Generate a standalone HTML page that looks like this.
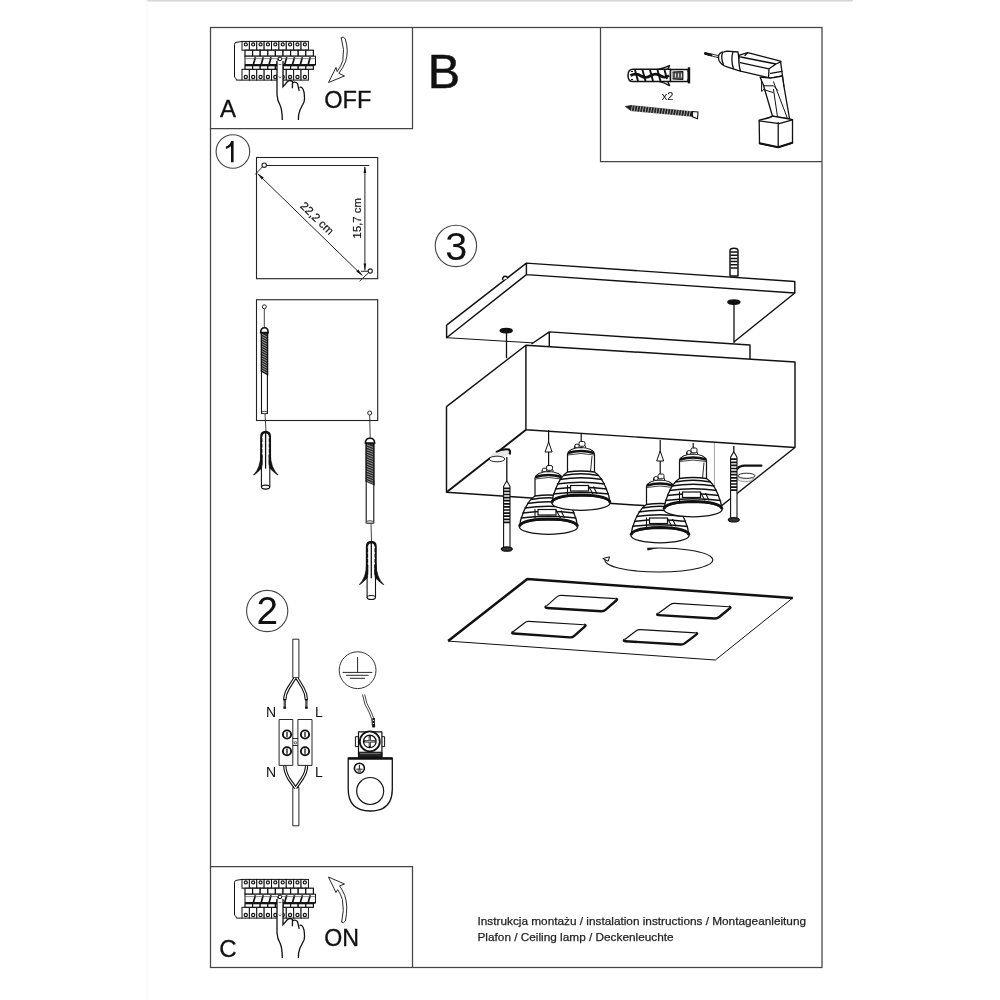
<!DOCTYPE html>
<html><head><meta charset="utf-8"><style>
html,body{margin:0;padding:0;background:#fff;overflow:hidden;}
svg{display:block;font-family:"Liberation Sans", sans-serif;will-change:transform;}
</style></head><body>
<svg width="1000" height="1000" viewBox="0 0 1000 1000">
<rect x="146.5" y="0" width="706.5" height="1.6" fill="#d8d8d8"/>
<rect x="146.5" y="0" width="1" height="1000" fill="#f7f7f7"/>
<g fill="none" stroke="#444" stroke-width="1.25">
<rect x="210.5" y="27.5" width="611.5" height="940"/>
<path d="M210.5 128.5H412.5V27.5"/>
<path d="M600.5 27.5V161.5H822"/>
<path d="M210.5 866.5H412.5V967.5"/>
</g>
<text x="220" y="117.2" font-size="24" text-anchor="start" fill="#111" stroke="#111" stroke-width="0.3">A</text>
<text x="324.2" y="108" font-size="23.6" text-anchor="start" fill="#111" stroke="#111" stroke-width="0.3">OFF</text>
<text x="427.8" y="87.6" font-size="48.5" text-anchor="start" fill="#111" stroke="#111" stroke-width="0.5">B</text>
<text x="219.3" y="957.3" font-size="24" text-anchor="start" fill="#111" stroke="#111" stroke-width="0.3">C</text>
<text x="324.3" y="946" font-size="23.2" text-anchor="start" fill="#111" stroke="#111" stroke-width="0.3">ON</text>
<text x="477.5" y="924.8" font-size="11.8" text-anchor="start" fill="#222" stroke="#222" stroke-width="0.25">Instrukcja montażu / instalation instructions / Montageanleitung</text>
<text x="477.5" y="940.6" font-size="11.8" text-anchor="start" fill="#222" stroke="#222" stroke-width="0.25">Plafon / Ceiling lamp / Deckenleuchte</text>
<g fill="none" stroke="#444" stroke-width="1.1">
<circle cx="232.9" cy="151.5" r="16.8"/>
<circle cx="267.2" cy="611" r="20.6"/>
<circle cx="455.9" cy="245.9" r="20.7"/>
</g>
<path d="M231.2 141 H233.6 V162.3 H231 V146.2 Q229 148 225.9 149 V146.6 Q230 145 231.2 141Z" fill="#111"/>
<text x="267.4" y="624.1" font-size="38.8" text-anchor="middle" fill="#111" >2</text>
<text x="456.2" y="259.8" font-size="39.5" text-anchor="middle" fill="#111" >3</text>
<g transform="translate(0,0)" fill="#fff" stroke="#111" stroke-width="1">
<path d="M242 41.4 L236 42.4 Q234.5 42.8 234.5 44.5 V77.2 L236.3 78.8 V80.1 H242"/>
<rect x="242.00" y="41.4" width="7.38" height="8.8"/>
<rect x="242.00" y="69.3" width="7.38" height="10.8"/>
<circle cx="245.80" cy="44.4" r="1.55" stroke-width="1.2"/>
<circle cx="245.80" cy="77" r="1.6" stroke-width="1.2"/>
<rect x="249.38" y="41.4" width="7.38" height="8.8"/>
<rect x="249.38" y="69.3" width="7.38" height="10.8"/>
<circle cx="253.18" cy="44.4" r="1.55" stroke-width="1.2"/>
<circle cx="253.18" cy="77" r="1.6" stroke-width="1.2"/>
<rect x="256.76" y="41.4" width="7.38" height="8.8"/>
<rect x="256.76" y="69.3" width="7.38" height="10.8"/>
<circle cx="260.56" cy="44.4" r="1.55" stroke-width="1.2"/>
<circle cx="260.56" cy="77" r="1.6" stroke-width="1.2"/>
<rect x="264.14" y="41.4" width="7.38" height="8.8"/>
<rect x="264.14" y="69.3" width="7.38" height="10.8"/>
<circle cx="267.94" cy="44.4" r="1.55" stroke-width="1.2"/>
<circle cx="267.94" cy="77" r="1.6" stroke-width="1.2"/>
<rect x="271.52" y="41.4" width="7.38" height="8.8"/>
<rect x="271.52" y="69.3" width="7.38" height="10.8"/>
<circle cx="275.32" cy="44.4" r="1.55" stroke-width="1.2"/>
<circle cx="275.32" cy="77" r="1.6" stroke-width="1.2"/>
<rect x="278.90" y="41.4" width="7.38" height="8.8"/>
<rect x="278.90" y="69.3" width="7.38" height="10.8"/>
<circle cx="282.70" cy="44.4" r="1.55" stroke-width="1.2"/>
<circle cx="282.70" cy="77" r="1.6" stroke-width="1.2"/>
<rect x="286.28" y="41.4" width="7.38" height="8.8"/>
<rect x="286.28" y="69.3" width="7.38" height="10.8"/>
<circle cx="290.08" cy="44.4" r="1.55" stroke-width="1.2"/>
<circle cx="290.08" cy="77" r="1.6" stroke-width="1.2"/>
<rect x="293.66" y="41.4" width="7.38" height="8.8"/>
<rect x="293.66" y="69.3" width="7.38" height="10.8"/>
<circle cx="297.46" cy="44.4" r="1.55" stroke-width="1.2"/>
<circle cx="297.46" cy="77" r="1.6" stroke-width="1.2"/>
<rect x="301.04" y="41.4" width="7.38" height="8.8"/>
<rect x="301.04" y="69.3" width="7.38" height="10.8"/>
<circle cx="304.84" cy="44.4" r="1.55" stroke-width="1.2"/>
<circle cx="304.84" cy="77" r="1.6" stroke-width="1.2"/>
<rect x="245.00" y="50.2" width="7.6" height="6" stroke-width="1.2"/>
<rect x="245.00" y="65.7" width="7.6" height="3.6" stroke-width="1.2"/>
<rect x="252.60" y="50.2" width="7.6" height="6" stroke-width="1.2"/>
<rect x="252.60" y="65.7" width="7.6" height="3.6" stroke-width="1.2"/>
<rect x="260.20" y="50.2" width="7.6" height="6" stroke-width="1.2"/>
<rect x="260.20" y="65.7" width="7.6" height="3.6" stroke-width="1.2"/>
<rect x="267.80" y="50.2" width="7.6" height="6" stroke-width="1.2"/>
<rect x="267.80" y="65.7" width="7.6" height="3.6" stroke-width="1.2"/>
<rect x="275.40" y="50.2" width="7.6" height="6" stroke-width="1.2"/>
<rect x="275.40" y="65.7" width="7.6" height="3.6" stroke-width="1.2"/>
<rect x="283.00" y="50.2" width="7.6" height="6" stroke-width="1.2"/>
<rect x="283.00" y="65.7" width="7.6" height="3.6" stroke-width="1.2"/>
<rect x="290.60" y="50.2" width="7.6" height="6" stroke-width="1.2"/>
<rect x="290.60" y="65.7" width="7.6" height="3.6" stroke-width="1.2"/>
<rect x="298.20" y="50.2" width="7.6" height="6" stroke-width="1.2"/>
<rect x="298.20" y="65.7" width="7.6" height="3.6" stroke-width="1.2"/>
<rect x="305.80" y="50.2" width="7.6" height="6" stroke-width="1.2"/>
<rect x="305.80" y="65.7" width="7.6" height="3.6" stroke-width="1.2"/>
<rect x="245" y="56.2" width="70.5" height="8.4"/>
<path d="M253.43 64.2 L255.43 57.2 M261.26 64.2 L263.26 57.2 M269.09 64.2 L271.09 57.2 M276.92 64.2 L278.92 57.2 M284.75 64.2 L286.75 57.2 M292.58 64.2 L294.58 57.2 M300.41 64.2 L302.41 57.2 M308.24 64.2 L310.24 57.2" stroke-width="1.7"/>
<path d="M245 58.6H315.5" stroke-width="0.7" stroke="#555"/>
<rect x="245" y="64.3" width="70.5" height="1.5" fill="#111" stroke="none"/>
</g>
<g transform="translate(0,0)">
<path fill="#fff" d="M277 60.5 H283 V86.8 L287.5 81.5 Q289.8 79.5 292.5 81.5 Q294.5 82 297.5 83.5 Q301.8 86.5 304 92 Q305 98.8 304 102 Q302 106 300 110 Q298 115 298.4 120 H282.3 Q282.3 110 280 105 Q277.5 101 277 95Z"/>
<path fill="none" stroke="#111" stroke-width="1.3" d="M277 61 V95 Q277.5 101 280 105 Q282.3 110 282.3 120 M283 61 V86.8 L287.5 81.5 Q289.8 79.5 292.5 81.5 L292.4 88.3 M292.5 83 Q295 81 297.5 83.5 L299.2 90.9 M299.5 87.5 Q302.5 86 304 92 Q305 98.8 304 102 Q302 106 300 110 Q298 115 298.4 120"/>
<circle cx="280" cy="58.9" r="1.8" fill="#fff" stroke="#111" stroke-width="1"/>
<path d="M279 76.5 L280 78 L281 76.5 M278.6 64.5 H281.4" fill="none" stroke="#333" stroke-width="0.7"/>
</g>
<g transform="translate(0,838)" fill="#fff" stroke="#111" stroke-width="1">
<path d="M242 41.4 L236 42.4 Q234.5 42.8 234.5 44.5 V77.2 L236.3 78.8 V80.1 H242"/>
<rect x="242.00" y="41.4" width="7.38" height="8.8"/>
<rect x="242.00" y="69.3" width="7.38" height="10.8"/>
<circle cx="245.80" cy="44.4" r="1.55" stroke-width="1.2"/>
<circle cx="245.80" cy="77" r="1.6" stroke-width="1.2"/>
<rect x="249.38" y="41.4" width="7.38" height="8.8"/>
<rect x="249.38" y="69.3" width="7.38" height="10.8"/>
<circle cx="253.18" cy="44.4" r="1.55" stroke-width="1.2"/>
<circle cx="253.18" cy="77" r="1.6" stroke-width="1.2"/>
<rect x="256.76" y="41.4" width="7.38" height="8.8"/>
<rect x="256.76" y="69.3" width="7.38" height="10.8"/>
<circle cx="260.56" cy="44.4" r="1.55" stroke-width="1.2"/>
<circle cx="260.56" cy="77" r="1.6" stroke-width="1.2"/>
<rect x="264.14" y="41.4" width="7.38" height="8.8"/>
<rect x="264.14" y="69.3" width="7.38" height="10.8"/>
<circle cx="267.94" cy="44.4" r="1.55" stroke-width="1.2"/>
<circle cx="267.94" cy="77" r="1.6" stroke-width="1.2"/>
<rect x="271.52" y="41.4" width="7.38" height="8.8"/>
<rect x="271.52" y="69.3" width="7.38" height="10.8"/>
<circle cx="275.32" cy="44.4" r="1.55" stroke-width="1.2"/>
<circle cx="275.32" cy="77" r="1.6" stroke-width="1.2"/>
<rect x="278.90" y="41.4" width="7.38" height="8.8"/>
<rect x="278.90" y="69.3" width="7.38" height="10.8"/>
<circle cx="282.70" cy="44.4" r="1.55" stroke-width="1.2"/>
<circle cx="282.70" cy="77" r="1.6" stroke-width="1.2"/>
<rect x="286.28" y="41.4" width="7.38" height="8.8"/>
<rect x="286.28" y="69.3" width="7.38" height="10.8"/>
<circle cx="290.08" cy="44.4" r="1.55" stroke-width="1.2"/>
<circle cx="290.08" cy="77" r="1.6" stroke-width="1.2"/>
<rect x="293.66" y="41.4" width="7.38" height="8.8"/>
<rect x="293.66" y="69.3" width="7.38" height="10.8"/>
<circle cx="297.46" cy="44.4" r="1.55" stroke-width="1.2"/>
<circle cx="297.46" cy="77" r="1.6" stroke-width="1.2"/>
<rect x="301.04" y="41.4" width="7.38" height="8.8"/>
<rect x="301.04" y="69.3" width="7.38" height="10.8"/>
<circle cx="304.84" cy="44.4" r="1.55" stroke-width="1.2"/>
<circle cx="304.84" cy="77" r="1.6" stroke-width="1.2"/>
<rect x="245.00" y="50.2" width="7.6" height="6" stroke-width="1.2"/>
<rect x="245.00" y="65.7" width="7.6" height="3.6" stroke-width="1.2"/>
<rect x="252.60" y="50.2" width="7.6" height="6" stroke-width="1.2"/>
<rect x="252.60" y="65.7" width="7.6" height="3.6" stroke-width="1.2"/>
<rect x="260.20" y="50.2" width="7.6" height="6" stroke-width="1.2"/>
<rect x="260.20" y="65.7" width="7.6" height="3.6" stroke-width="1.2"/>
<rect x="267.80" y="50.2" width="7.6" height="6" stroke-width="1.2"/>
<rect x="267.80" y="65.7" width="7.6" height="3.6" stroke-width="1.2"/>
<rect x="275.40" y="50.2" width="7.6" height="6" stroke-width="1.2"/>
<rect x="275.40" y="65.7" width="7.6" height="3.6" stroke-width="1.2"/>
<rect x="283.00" y="50.2" width="7.6" height="6" stroke-width="1.2"/>
<rect x="283.00" y="65.7" width="7.6" height="3.6" stroke-width="1.2"/>
<rect x="290.60" y="50.2" width="7.6" height="6" stroke-width="1.2"/>
<rect x="290.60" y="65.7" width="7.6" height="3.6" stroke-width="1.2"/>
<rect x="298.20" y="50.2" width="7.6" height="6" stroke-width="1.2"/>
<rect x="298.20" y="65.7" width="7.6" height="3.6" stroke-width="1.2"/>
<rect x="305.80" y="50.2" width="7.6" height="6" stroke-width="1.2"/>
<rect x="305.80" y="65.7" width="7.6" height="3.6" stroke-width="1.2"/>
<rect x="245" y="56.2" width="70.5" height="8.4"/>
<path d="M253.43 64.2 L255.43 57.2 M261.26 64.2 L263.26 57.2 M269.09 64.2 L271.09 57.2 M276.92 64.2 L278.92 57.2 M284.75 64.2 L286.75 57.2 M292.58 64.2 L294.58 57.2 M300.41 64.2 L302.41 57.2 M308.24 64.2 L310.24 57.2" stroke-width="1.7"/>
<path d="M245 58.6H315.5" stroke-width="0.7" stroke="#555"/>
<rect x="245" y="64.3" width="70.5" height="1.5" fill="#111" stroke="none"/>
</g>
<g transform="translate(0,838)">
<path fill="#fff" d="M277 60.5 H283 V86.8 L287.5 81.5 Q289.8 79.5 292.5 81.5 Q294.5 82 297.5 83.5 Q301.8 86.5 304 92 Q305 98.8 304 102 Q302 106 300 110 Q298 115 298.4 120 H282.3 Q282.3 110 280 105 Q277.5 101 277 95Z"/>
<path fill="none" stroke="#111" stroke-width="1.3" d="M277 61 V95 Q277.5 101 280 105 Q282.3 110 282.3 120 M283 61 V86.8 L287.5 81.5 Q289.8 79.5 292.5 81.5 L292.4 88.3 M292.5 83 Q295 81 297.5 83.5 L299.2 90.9 M299.5 87.5 Q302.5 86 304 92 Q305 98.8 304 102 Q302 106 300 110 Q298 115 298.4 120"/>
<circle cx="280" cy="58.9" r="1.8" fill="#fff" stroke="#111" stroke-width="1"/>
<path d="M279 76.5 L280 78 L281 76.5 M278.6 64.5 H281.4" fill="none" stroke="#333" stroke-width="0.7"/>
</g>
<g fill="#fff" stroke="#111" stroke-width="0.9">
<path d="M341.2 37.6 Q343.5 35.8 345.3 39 Q349 51 345.6 61.5 Q343 68 338.8 73.3 L344.5 76 L328.5 82.5 L336 67.5 L337.2 71.6 Q341.2 66 342.8 60.5 Q345 50 341.2 37.6Z"/>
<path d="M341.6 922.2 Q343.6 923.6 345.4 921 Q348.4 906 344.8 895.5 Q342.2 889.5 339.6 885.8 L344.5 884 L328.5 877 L336 892.5 L337.6 889.6 Q340.8 894 342.4 899.5 Q344.6 910 341.6 922.2Z"/>
</g>
<g stroke="#111" stroke-width="1.3" stroke-linejoin="round">
<path d="M657 69.8 Q663 68.5 669.5 65.6 L667.5 70 M659 81.4 Q664 82.5 669.5 85.6 L667.5 81" fill="#fff" stroke-width="1.4"/>
<path d="M670.5 69.3 H633 Q628 69.3 628 75.4 Q628 81.5 633 81.5 H670.5Z" fill="#fff" stroke-width="1.5"/>
<path d="M630.5 75.5 Q636 72.5 641 76 Q646 79 651 75.5 Q656 72.5 661 76 Q665 78.5 669 75.5" fill="none" stroke-width="2.8"/>
<path d="M635 70 L638 81 M642.5 70 L645.5 81 M650 70 L653 81 M657.5 70 L660.5 81 M664.5 70 L667 79" stroke-width="1.9"/>
<path d="M631 71.5 H633 M631 79.5 H633" stroke-width="1"/>
<rect x="670.5" y="69.5" width="17.5" height="12" fill="#fff" stroke-width="1.5"/>
<path d="M672.5 72 L683 71.5 V79.5 L672.5 79" fill="#555" stroke-width="1"/>
<rect x="683.8" y="72.2" width="3.6" height="6.8" fill="#fff" stroke="none"/>
<path d="M675.5 73.5V77.5M678.5 73.5V77.5M681.5 73.5V77.5" stroke="#fff" stroke-width="0.8"/>
<rect x="687.8" y="67.3" width="2.4" height="16.1" fill="#111" stroke="none"/>
</g>
<g stroke="#111" stroke-width="0.8">
<path d="M625.5 106.5 L631 105.6 L692.5 111.8 L692.5 116.3 L631 110.6 Z" fill="#222"/>
<path d="M632.5 105.3 L631.2 111.2 M635.2 105.6 L634.0 111.5 M638.0 105.9 L636.7 111.8 M640.8 106.2 L639.5 112.1 M643.5 106.4 L642.2 112.3 M646.2 106.7 L645.0 112.6 M649.0 107.0 L647.7 112.9 M651.8 107.2 L650.5 113.1 M654.5 107.5 L653.2 113.4 M657.2 107.8 L656.0 113.7 M660.0 108.1 L658.7 114.0 M662.8 108.3 L661.5 114.2 M665.5 108.6 L664.2 114.5 M668.2 108.9 L667.0 114.8 M671.0 109.1 L669.7 115.0 M673.8 109.4 L672.5 115.3 M676.5 109.7 L675.2 115.6 M679.2 109.9 L678.0 115.8 M682.0 110.2 L680.7 116.1 M684.8 110.5 L683.5 116.4 M687.5 110.8 L686.2 116.7 M690.2 111.0 L689.0 116.9" stroke="#fff" stroke-width="0.6"/>
<path d="M692.5 111.5 L698 112 L697.5 118.8 L692.5 116.8Z" fill="#fff" stroke-width="1.1"/>
</g>
<text x="667.5" y="100" font-size="11" text-anchor="middle" fill="#111">x2</text>
<g stroke="#111" stroke-width="1.3" fill="#fff" stroke-linejoin="round" stroke-linecap="round">
<path d="M705.2 52.6 L718.3 55.6 L718 57.6 L705 54.2Z" fill="#fff" stroke-width="0.9"/>
<path d="M705.2 52.8 L711.8 54.4 L711.6 56 L705 54.2Z" fill="#111" stroke-width="1"/>
<path d="M718.6 56 Q719 52.5 724 51.8 L727 51.2 L738 52 L740.5 71 L737.8 70.4 L727 66.8 Q721 65 719 60.5 Q718.3 58 718.6 56Z"/>
<path d="M722.5 52.4 Q720.5 58 723.5 64.6 M733 51.6 Q730.5 60 733.5 68.6" fill="none"/>
<path d="M739.5 55.2 L747.7 52.6 L780.5 61.2 L782.5 76 L770.6 78.2 L740.5 71.2 Q738 63 739.5 55.2Z"/>
<path d="M740.7 57 L776 64 L781 61.6 M740.2 62.6 L769 68.8 M769 68.8 L776 64 M769 68.8 L768.5 78 M770.6 73.3 L782 71.3 M747.7 52.6 L745 55.5" fill="none"/>
<path d="M760.2 77.2 L770.6 78.2 L782.5 76 L784 86.6 L789.6 119 L772.5 116.2 L763 83.7 L761.6 81 Z"/>
<path d="M761.6 81 V91.3 L763 90.5 M764 85.8 L773.5 85.8 L777.8 90.4 M773.5 89.4 L777.8 119 M773.5 81.8 L787.7 119 M784 86.6 L782.5 76" fill="none" stroke-width="1"/>
<path d="M763.5 89.5 L773 92.5" fill="none" stroke-width="1"/>
<path d="M759.2 120.2 L766 118.5 L772.5 116.2 L789.6 119 L792.5 119.6 V142.8 L778.2 147.4 L759.5 143.5Z"/>
<path d="M759.2 120.8 L779.2 123.6 L792.5 119.8 M778.2 122.7 V147.4 M766 118.5 Q770 118 772.5 116.2" fill="none"/>
<path d="M759.7 143.3 L778.2 147.2 L792.3 142.8" fill="none" stroke-width="2"/>
</g>
<g fill="none" stroke="#222" stroke-width="1.1">
<rect x="256.5" y="157.5" width="121.2" height="121.2"/>
<rect x="256.5" y="299.75" width="121.2" height="120.75"/>
<path d="M266.4 165.5 H369.3" stroke-width="1"/>
<path d="M262.7 166.6 L255.2 174.4" stroke-width="1"/>
<path d="M258 174 L362 275.2" stroke-width="1"/>
<path d="M364.9 167 V270.5" stroke-width="1"/>
<path d="M361 271.25 H368" stroke-width="1"/>
<path d="M368.7 272.6 L359.6 281.2" stroke-width="1"/>
<circle cx="264.2" cy="165.2" r="2.2" fill="#fff"/>
<circle cx="370.25" cy="271" r="2.1" fill="#fff"/>
</g>
<path d="M257.00 173.00 L263.71 177.58 L261.76 179.58Z" fill="#111" stroke="none"/>
<path d="M363.00 276.00 L356.29 271.43 L358.24 269.42Z" fill="#111" stroke="none"/>
<path d="M364.90 166.00 L366.20 173.00 L363.60 173.00Z" fill="#111" stroke="none"/>
<path d="M364.90 270.50 L363.60 263.50 L366.20 263.50Z" fill="#111" stroke="none"/>
<text font-size="11.6" fill="#111" stroke="#111" stroke-width="0.2" text-anchor="middle" transform="translate(314.3,221.2) rotate(44.2)">22,2 cm</text>
<text font-size="11.3" fill="#111" stroke="#111" stroke-width="0.2" text-anchor="middle" transform="translate(361,218.3) rotate(-90)">15,7 cm</text>
<g stroke="#111" stroke-width="0.9" fill="#fff">
<path d="M264.3 309 V329 M265 413.5 L266 432 M369.7 415 L370.2 438.5 M371 523 L371.5 542" stroke-width="0.8"/>
<circle cx="264.3" cy="306.8" r="2"/>
<circle cx="369.7" cy="413" r="2"/>
</g>
<g stroke="#111" fill="#fff">
<rect x="261.5" y="371.2" width="5.9" height="42.3" stroke-width="1.1"/>
<ellipse cx="264.5" cy="412.5" rx="2.8" ry="1.2" stroke-width="0.8"/>
<path d="M261.3 332.6 V371.2 L267.6 374.7 V332.6Z" fill="#2a2a2a" stroke-width="1.3"/>
<path d="M262.1 334.3 L266.8 336.9 M262.1 336.7 L266.8 339.3 M262.1 339.1 L266.8 341.7 M262.1 341.5 L266.8 344.1 M262.1 343.9 L266.8 346.5 M262.1 346.3 L266.8 348.9 M262.1 348.7 L266.8 351.3 M262.1 351.1 L266.8 353.7 M262.1 353.5 L266.8 356.1 M262.1 355.9 L266.8 358.5 M262.1 358.3 L266.8 360.9 M262.1 360.7 L266.8 363.3 M262.1 363.1 L266.8 365.7 M262.1 365.5 L266.8 368.1 M262.1 367.9 L266.8 370.5 M262.1 370.3 L266.8 372.9" stroke="#ddd" stroke-width="0.6"/>
<path d="M260.7 332.6 Q260.7 327.8 264.5 327.8 Q268.2 327.8 268.2 332.6Z" stroke-width="1.6"/>
</g>
<g stroke="#111" fill="#fff">
<rect x="366.2" y="481.0" width="7.6" height="42.0" stroke-width="1.1"/>
<ellipse cx="370.0" cy="522.0" rx="3.6" ry="1.2" stroke-width="0.8"/>
<path d="M366.0 443.1 V481.0 L374.0 484.5 V443.1Z" fill="#2a2a2a" stroke-width="1.3"/>
<path d="M366.8 444.8 L373.2 447.4 M366.8 447.2 L373.2 449.8 M366.8 449.6 L373.2 452.2 M366.8 452.0 L373.2 454.6 M366.8 454.4 L373.2 457.0 M366.8 456.8 L373.2 459.4 M366.8 459.2 L373.2 461.8 M366.8 461.6 L373.2 464.2 M366.8 464.0 L373.2 466.6 M366.8 466.4 L373.2 469.0 M366.8 468.8 L373.2 471.4 M366.8 471.2 L373.2 473.8 M366.8 473.6 L373.2 476.2 M366.8 476.0 L373.2 478.6 M366.8 478.4 L373.2 481.0 M366.8 480.8 L373.2 483.4" stroke="#ddd" stroke-width="0.6"/>
<path d="M365.4 443.1 Q365.4 438.3 370.0 438.3 Q374.6 438.3 374.6 443.1Z" stroke-width="1.6"/>
</g>
<g stroke="#111" fill="#fff" stroke-linejoin="round">
<path d="M261.4 466.4 V487.1 Q265.6 490.4 269.8 487.1 V466.4" stroke-width="1.1"/>
<ellipse cx="265.6" cy="487.1" rx="4.1" ry="2" stroke-width="1.1"/>
<path d="M261.3 465.5 V436.5 Q261.3 432.3 265.6 432.0 Q269.9 432.3 269.9 436.5 V465.5" stroke-width="2.3"/>
<path d="M265.6 432.5 V468.6" stroke-width="1.3"/>
<path d="M262.0 437.6 h0.9 M268.3 437.6 h0.9 M262.0 442.9 h0.9 M268.3 442.9 h0.9 M262.0 448.2 h0.9 M268.3 448.2 h0.9 M262.0 453.5 h0.9 M268.3 453.5 h0.9 M262.0 458.8 h0.9 M268.3 458.8 h0.9" stroke="#fff" stroke-width="1.5"/>
<path d="M261.0 453.5 Q260.6 468.0 253.6 475.0 Q256.1 474.0 261.6 468.0 Q262.4 462.1 262.2 455.6Z" fill="#111" stroke-width="0.7"/>
<path d="M270.2 453.5 Q270.6 468.0 278.1 475.0 Q275.6 474.0 269.6 468.0 Q268.8 462.1 269.0 455.6Z" fill="#111" stroke-width="0.7"/>
</g>
<g stroke="#111" fill="#fff" stroke-linejoin="round">
<path d="M367.1 576.2 V597.5 Q371.3 600.8 375.5 597.5 V576.2" stroke-width="1.1"/>
<ellipse cx="371.3" cy="597.5" rx="4.1" ry="2" stroke-width="1.1"/>
<path d="M367.0 575.3 V546.5 Q367.0 542.3 371.3 542.0 Q375.6 542.3 375.6 546.5 V575.3" stroke-width="2.3"/>
<path d="M371.3 542.5 V578.3" stroke-width="1.3"/>
<path d="M367.7 547.6 h0.9 M374.0 547.6 h0.9 M367.7 552.9 h0.9 M374.0 552.9 h0.9 M367.7 558.2 h0.9 M374.0 558.2 h0.9 M367.7 563.5 h0.9 M374.0 563.5 h0.9 M367.7 568.8 h0.9 M374.0 568.8 h0.9" stroke="#fff" stroke-width="1.5"/>
<path d="M366.7 563.4 Q366.3 577.7 359.3 584.7 Q361.8 583.7 367.3 577.7 Q368.1 571.9 367.9 565.5Z" fill="#111" stroke-width="0.7"/>
<path d="M375.9 563.4 Q376.3 577.7 383.8 584.7 Q381.3 583.7 375.3 577.7 Q374.5 571.9 374.7 565.5Z" fill="#111" stroke-width="0.7"/>
</g>
<g stroke="#111" stroke-width="0.9" fill="#fff" stroke-linejoin="round">
<rect x="292.8" y="639.2" width="6.1" height="38.4"/>
<rect x="292.8" y="787.5" width="6.1" height="38.3"/>
<path d="M295 677.8 L288.5 688 Q284.8 694 284.8 700 M296.8 677.8 L303 688 Q306.4 694 306.4 700 M284.8 765.6 Q284.8 772 289 779 L295.5 788 M306.6 765.6 Q306.6 772 302 779 L295.7 788" fill="none" stroke="#111" stroke-width="3.3"/>
<path d="M295 677.8 L288.5 688 Q284.8 694 284.8 700 M296.8 677.8 L303 688 Q306.4 694 306.4 700 M284.8 765.6 Q284.8 772 289 779 L295.5 788 M306.6 765.6 Q306.6 772 302 779 L295.7 788" fill="none" stroke="#fff" stroke-width="1.1"/>
<path d="M284.8 699 V708.3 M306.4 699 V708.3" fill="none" stroke="#555" stroke-width="2.4"/>
<path d="M284.8 706.8 V708.8 M306.4 706.8 V708.8 M284.8 699 V700.5 M306.4 699 V700.5" fill="none" stroke="#111" stroke-width="2.6"/>
<rect x="279.1" y="719.5" width="13.7" height="45.9"/>
<rect x="297.9" y="719.5" width="14.1" height="45.9"/>
<path d="M292.8 738.5 H297.9 M292.8 745.5 H297.9" fill="none"/>
<circle cx="295.4" cy="742.7" r="1.2" stroke-width="0.7"/>
<circle cx="287" cy="734.5" r="4.1" stroke-width="1.9"/>
<path d="M287 731.9 V737.1" stroke-width="1.3"/>
<circle cx="305" cy="734.5" r="4.1" stroke-width="1.9"/>
<path d="M305 731.9 V737.1" stroke-width="1.3"/>
<circle cx="287" cy="751.2" r="4.1" stroke-width="1.9"/>
<path d="M287 748.6 V753.8000000000001" stroke-width="1.3"/>
<circle cx="305" cy="751.2" r="4.1" stroke-width="1.9"/>
<path d="M305 748.6 V753.8000000000001" stroke-width="1.3"/>
<circle cx="357.6" cy="670.2" r="18.4" fill="none" stroke="#333" stroke-width="1"/>
<path d="M357.6 657 V672.4 M342.6 672.4 H372.3 M346.2 675.3 H368.7 M349.8 678.3 H365.1" fill="none" stroke-width="0.9"/>
<path d="M362.5 694.5 Q364 705 369 712 Q372.5 718 372.5 727 M364.7 694.5 Q366 704 371 711.5 Q374.8 718 374.8 727" fill="none" stroke-width="0.8"/>
<path d="M373.6 718 V727.5" stroke-width="2.4"/>
<path d="M373.6 720 V721 M373.6 723 V724" stroke="#fff" stroke-width="1"/>
<rect x="355.4" y="736.7" width="29.2" height="9.9" stroke-width="1"/>
<rect x="358.5" y="731.8" width="23.4" height="25.6" stroke-width="1.2"/>
<rect x="358.5" y="752.2" width="23.4" height="5" fill="#222" stroke-width="1"/>
<path d="M360 753.6 H380.5" stroke="#888" stroke-width="0.8"/>
<circle cx="369.8" cy="741.4" r="10" stroke-width="1.8"/>
<circle cx="369.8" cy="741.4" r="6.3" stroke-width="1.3"/>
<path d="M364 741.4 H375.6 M369.8 735.6 V747.2" stroke-width="2.2"/>
<path d="M365 741.4 H374.6 M369.8 736.6 V746.2" stroke="#fff" stroke-width="0.6"/>
<path d="M348.2 758 H392.3 V789 Q392.3 811 370.2 811 Q348.2 811 348.2 789Z" stroke-width="1.3"/>
<path d="M348.5 758.6 H392" stroke-width="2.2"/>
<circle cx="370.2" cy="791" r="13.5" stroke-width="1.2"/>
<circle cx="359.4" cy="768.2" r="5" stroke-width="1.6"/>
<path d="M359.4 764.8 V769.2 M356.4 769.2 H362.4 M357.6 771 H361.2" fill="none" stroke-width="1"/>
</g>
<text x="266" y="717" font-size="14" fill="#111">N</text>
<text x="315" y="717" font-size="14" fill="#111">L</text>
<text x="266" y="777.3" font-size="14" fill="#111">N</text>
<text x="315" y="777.3" font-size="14" fill="#111">L</text>
<g fill="none" stroke="#111" stroke-width="1.45" stroke-linejoin="round">
<path d="M730 276 V250.5 Q730 248.2 734 248.2 Q738 248.2 738 250.5 V276Z" fill="#fff"/>
<path d="M730.3 252 H737.7 M730.3 255.2 H737.7 M730.3 258.4 H737.7 M730.3 261.6 H737.7 M730.3 264.8 H737.7 M730.3 268 H737.7" stroke-width="1.5"/>
<path d="M446.6 325.1 L526.4 263.1 L794.8 281.5 V293 L733.9 342 M446.6 325.1 V337.7 L526.4 274.6 L794.8 293 M526.4 263.1 V274.6" fill="#fff"/>
<path d="M446.6 337.7 L533.2 342.9" stroke-width="1"/>
<path d="M502.6 280 Q502.6 276.3 505.2 276.3 Q507.5 276.3 507.8 278.5" fill="#fff" stroke-width="1.4"/>
<ellipse cx="506.2" cy="330.6" rx="6" ry="2.2" fill="#111"/>
<ellipse cx="733.9" cy="302.1" rx="6" ry="2.2" fill="#111"/>
<path d="M506.5 332 V358.3 M734 304 V343" stroke-width="1.3"/>
<path d="M531.5 344 L549.3 331.9 L750 345 V359.3 M549.3 331.9 V346.3" />
<path d="M446.5 406.6 L525.9 345.2 L795 362 V447.5 L715.5 510.5 M525.9 345.2 V429.7 L795 447.5 M446.5 406.6 V492.2 H446.5 L715.5 510.5" fill="#fff" stroke-width="1.45"/>
<path d="M526 429.8 L446.5 492.2" stroke-width="1.9"/>
<path d="M489.5 458.8 Q490 454 497 451.5 Q503 449 509 449.5 Q511 451 509.5 454 Q505 457.5 499 459" fill="#e8e8e8" stroke="none"/>
<ellipse cx="497" cy="459" rx="7.8" ry="2.8" fill="#fff" stroke-width="0.9"/>
<path d="M496 452 Q502 448.5 509 449.5 Q511 451.5 509.5 454.5" stroke-width="2"/>
<ellipse cx="745.5" cy="479" rx="8" ry="2.6" fill="#f0f0f0" stroke="#888" stroke-width="0.8"/>
<ellipse cx="746.5" cy="475.8" rx="8.5" ry="2.6" fill="#fff" stroke-width="0.9"/>
<path d="M737 469 Q740 465.5 745 465.7 H761.4" stroke-width="2.2" stroke-linecap="round"/>
<path d="M714.4 443 V488" stroke="#777" stroke-width="0.7"/>
</g>
<g stroke="#111" fill="#fff" stroke-width="1.1">
<path d="M506.8 457 V480.8" stroke-width="1.3"/>
<path d="M506.8 480.8 L510.0 486.3 V547.6 H503.6 V486.3Z"/>
<path d="M503.6 488.3 H510.0 M503.6 491.4 H510.0 M503.6 494.5 H510.0 M503.6 497.6 H510.0 M503.6 500.7 H510.0 M503.6 503.8 H510.0 M503.6 506.9 H510.0 M503.6 510.0 H510.0 M503.6 513.1 H510.0 M503.6 516.2 H510.0 M503.6 519.3 H510.0 M503.6 522.4 H510.0" stroke-width="1.7"/>
<path d="M501.3 549.1 Q501.8 546.8000000000001 506.8 546.8000000000001 Q511.8 546.8000000000001 512.3 549.1 Q511.8 551.2 506.8 551.2 Q501.8 551.2 501.3 549.1Z" fill="#333" stroke-width="1.2"/>
</g>
<g stroke="#111" fill="#fff" stroke-width="1.1">
<path d="M733.8 446 V451.7" stroke-width="1.3"/>
<path d="M733.8 451.7 L737.0 457.2 V518.3 H730.5999999999999 V457.2Z"/>
<path d="M730.5999999999999 459.2 H737.0 M730.5999999999999 462.3 H737.0 M730.5999999999999 465.4 H737.0 M730.5999999999999 468.5 H737.0 M730.5999999999999 471.6 H737.0 M730.5999999999999 474.7 H737.0 M730.5999999999999 477.8 H737.0 M730.5999999999999 480.9 H737.0 M730.5999999999999 484.0 H737.0 M730.5999999999999 487.1 H737.0 M730.5999999999999 490.2 H737.0" stroke-width="1.7"/>
<path d="M728.3 519.8 Q728.8 517.5 733.8 517.5 Q738.8 517.5 739.3 519.8 Q738.8 521.9 733.8 521.9 Q728.8 521.9 728.3 519.8Z" fill="#333" stroke-width="1.2"/>
</g>
<g stroke="#111" fill="#fff" stroke-width="1">
<path d="M548.6 430 V465.8 M660.2 440 V474.3 M581.2 434 V441.8 M693.2 443 V448.3" stroke-width="1.2"/>
<path d="M548.6 442 L552.1 452 H545.1Z M660.2 451 L663.7 461 H656.7Z"/>
</g>
<g stroke="#111" fill="#fff" stroke-width="1.1">
<rect x="542.0" y="469.5" width="11" height="3.5" rx="1" stroke-width="1"/>
<rect x="546.5" y="465.5" width="6" height="4.8" rx="1.6" stroke-width="1"/>
<rect x="542.5" y="468.2" width="4" height="3.6" rx="1.2" stroke-width="1"/>
<path d="M535.0 499.0 V478.0 Q536.5 472.0 548.5 471.5 Q560.5 472.0 562.0 478.0 V499.0Z" stroke-width="1.2"/>
<path d="M535.5 477.0 Q548.5 473.0 561.5 477.0" fill="none" stroke-width="2.6"/>
<path d="M535.2 479.0 Q548.5 476.0 561.8 479.0" fill="none" stroke-width="0.8"/>
<path d="M559.5 480.0 L558.0 496.0" fill="none" stroke-width="0.9"/>
<path d="M535.0 496.0 Q528.5 500.0 523.5 512.0 Q520.0 520.0 519.5 527.0 H577.5 Q577.0 520.0 573.5 512.0 Q568.5 500.0 562.0 496.0 Q548.5 494.0 535.0 496.0Z" stroke-width="1.3"/>
<path d="M531.0 499.5 Q548.5 496.0 566.0 499.5 M527.0 503.5 Q548.5 500.0 570.0 503.5 M524.5 508.0 Q548.5 504.5 572.5 508.0 M522.5 513.0 Q548.5 509.5 574.5 513.0 M520.7 518.0 Q548.5 514.5 576.3 518.0" fill="none" stroke-width="1.5"/>
<rect x="538.0" y="509.5" width="18" height="5.5" stroke-width="1.2"/>
<path d="M535.0 509.0 V520.0 M556.0 510.0 L560.5 518.0 M561.0 510.5 L564.5 518.0" fill="none" stroke-width="1.1"/>
<ellipse cx="548.5" cy="527" rx="29" ry="7.3" stroke-width="1.2"/>
<path d="M519.5 526.5 Q520.5 519.5 548.5 519.0 Q576.5 519.5 577.5 526.5" fill="none" stroke-width="3"/>
</g>
<g stroke="#111" fill="#fff" stroke-width="1.1">
<rect x="574.5" y="445.5" width="11" height="3.5" rx="1" stroke-width="1"/>
<rect x="579.0" y="441.5" width="6" height="4.8" rx="1.6" stroke-width="1"/>
<rect x="575.0" y="444.2" width="4" height="3.6" rx="1.2" stroke-width="1"/>
<path d="M567.5 475.0 V454.0 Q569.0 448.0 581.0 447.5 Q593.0 448.0 594.5 454.0 V475.0Z" stroke-width="1.2"/>
<path d="M568.0 453.0 Q581.0 449.0 594.0 453.0" fill="none" stroke-width="2.6"/>
<path d="M567.7 455.0 Q581.0 452.0 594.3 455.0" fill="none" stroke-width="0.8"/>
<path d="M592.0 456.0 L590.5 472.0" fill="none" stroke-width="0.9"/>
<path d="M567.5 472.0 Q561.0 476.0 556.0 488.0 Q552.5 496.0 552.0 503.0 H610.0 Q609.5 496.0 606.0 488.0 Q601.0 476.0 594.5 472.0 Q581.0 470.0 567.5 472.0Z" stroke-width="1.3"/>
<path d="M563.5 475.5 Q581.0 472.0 598.5 475.5 M559.5 479.5 Q581.0 476.0 602.5 479.5 M557.0 484.0 Q581.0 480.5 605.0 484.0 M555.0 489.0 Q581.0 485.5 607.0 489.0 M553.2 494.0 Q581.0 490.5 608.8 494.0" fill="none" stroke-width="1.5"/>
<rect x="570.5" y="485.5" width="18" height="5.5" stroke-width="1.2"/>
<path d="M567.5 485.0 V496.0 M588.5 486.0 L593.0 494.0 M593.5 486.5 L597.0 494.0" fill="none" stroke-width="1.1"/>
<ellipse cx="581" cy="503" rx="29" ry="7.3" stroke-width="1.2"/>
<path d="M552.0 502.5 Q553.0 495.5 581.0 495.0 Q609.0 495.5 610.0 502.5" fill="none" stroke-width="3"/>
</g>
<g stroke="#111" fill="#fff" stroke-width="1.1">
<rect x="653.5" y="478.0" width="11" height="3.5" rx="1" stroke-width="1"/>
<rect x="658.0" y="474.0" width="6" height="4.8" rx="1.6" stroke-width="1"/>
<rect x="654.0" y="476.7" width="4" height="3.6" rx="1.2" stroke-width="1"/>
<path d="M646.5 507.5 V486.5 Q648.0 480.5 660.0 480.0 Q672.0 480.5 673.5 486.5 V507.5Z" stroke-width="1.2"/>
<path d="M647.0 485.5 Q660.0 481.5 673.0 485.5" fill="none" stroke-width="2.6"/>
<path d="M646.7 487.5 Q660.0 484.5 673.3 487.5" fill="none" stroke-width="0.8"/>
<path d="M671.0 488.5 L669.5 504.5" fill="none" stroke-width="0.9"/>
<path d="M646.5 504.5 Q640.0 508.5 635.0 520.5 Q631.5 528.5 631.0 535.5 H689.0 Q688.5 528.5 685.0 520.5 Q680.0 508.5 673.5 504.5 Q660.0 502.5 646.5 504.5Z" stroke-width="1.3"/>
<path d="M642.5 508.0 Q660.0 504.5 677.5 508.0 M638.5 512.0 Q660.0 508.5 681.5 512.0 M636.0 516.5 Q660.0 513.0 684.0 516.5 M634.0 521.5 Q660.0 518.0 686.0 521.5 M632.2 526.5 Q660.0 523.0 687.8 526.5" fill="none" stroke-width="1.5"/>
<rect x="649.5" y="518.0" width="18" height="5.5" stroke-width="1.2"/>
<path d="M646.5 517.5 V528.5 M667.5 518.5 L672.0 526.5 M672.5 519.0 L676.0 526.5" fill="none" stroke-width="1.1"/>
<ellipse cx="660" cy="535.5" rx="29" ry="7.3" stroke-width="1.2"/>
<path d="M631.0 535.0 Q632.0 528.0 660.0 527.5 Q688.0 528.0 689.0 535.0" fill="none" stroke-width="3"/>
</g>
<g stroke="#111" fill="#fff" stroke-width="1.1">
<rect x="686.5" y="452.0" width="11" height="3.5" rx="1" stroke-width="1"/>
<rect x="691.0" y="448.0" width="6" height="4.8" rx="1.6" stroke-width="1"/>
<rect x="687.0" y="450.7" width="4" height="3.6" rx="1.2" stroke-width="1"/>
<path d="M679.5 481.5 V460.5 Q681.0 454.5 693.0 454.0 Q705.0 454.5 706.5 460.5 V481.5Z" stroke-width="1.2"/>
<path d="M680.0 459.5 Q693.0 455.5 706.0 459.5" fill="none" stroke-width="2.6"/>
<path d="M679.7 461.5 Q693.0 458.5 706.3 461.5" fill="none" stroke-width="0.8"/>
<path d="M704.0 462.5 L702.5 478.5" fill="none" stroke-width="0.9"/>
<path d="M679.5 478.5 Q673.0 482.5 668.0 494.5 Q664.5 502.5 664.0 509.5 H722.0 Q721.5 502.5 718.0 494.5 Q713.0 482.5 706.5 478.5 Q693.0 476.5 679.5 478.5Z" stroke-width="1.3"/>
<path d="M675.5 482.0 Q693.0 478.5 710.5 482.0 M671.5 486.0 Q693.0 482.5 714.5 486.0 M669.0 490.5 Q693.0 487.0 717.0 490.5 M667.0 495.5 Q693.0 492.0 719.0 495.5 M665.2 500.5 Q693.0 497.0 720.8 500.5" fill="none" stroke-width="1.5"/>
<rect x="682.5" y="492.0" width="18" height="5.5" stroke-width="1.2"/>
<path d="M679.5 491.5 V502.5 M700.5 492.5 L705.0 500.5 M705.5 493.0 L709.0 500.5" fill="none" stroke-width="1.1"/>
<ellipse cx="693" cy="509.5" rx="29" ry="7.3" stroke-width="1.2"/>
<path d="M664.0 509.0 Q665.0 502.0 693.0 501.5 Q721.0 502.0 722.0 509.0" fill="none" stroke-width="3"/>
</g>
<path d="M647.5 548.3 A54 12 0 1 1 605 559" fill="none" stroke="#111" stroke-width="1.1"/>
<path d="M647 548.2 L658 548 L647.5 550.5Z" fill="#111"/>
<path d="M602.8 558.6 L609.5 556.8 L608.2 561.2Z" fill="#fff" stroke="#111" stroke-width="1"/>
<g stroke="#111" fill="none" stroke-linejoin="round">
<path d="M792.8 597.9 L715.4 660 L448.1 641.1" stroke-width="1"/>
<path d="M448.1 641.1 L527.3 579 L792.8 597.9" stroke-width="2.5"/>
<path d="M546.36 606.09 L556.84 596.91 Q558.80 595.20 561.40 595.36 L615.60 598.64" stroke-width="1.2"/>
<path d="M615.60 598.64 Q618.20 598.80 616.24 600.51 L605.76 609.69 Q603.80 611.40 601.20 611.24 L547.00 607.96 Q544.40 607.80 546.36 606.09" stroke-width="2.4"/>
<path d="M658.11 613.48 L670.09 604.82 Q672.20 603.30 674.80 603.46 L729.00 606.74" stroke-width="1.2"/>
<path d="M729.00 606.74 Q731.60 606.90 729.58 608.54 L719.22 616.96 Q717.20 618.60 714.60 618.45 L658.60 615.15 Q656.00 615.00 658.11 613.48" stroke-width="2.4"/>
<path d="M513.14 631.79 L524.36 622.91 Q526.40 621.30 529.00 621.45 L584.10 624.75" stroke-width="1.2"/>
<path d="M584.10 624.75 Q586.70 624.90 584.74 626.61 L574.26 635.79 Q572.30 637.50 569.71 637.33 L513.69 633.57 Q511.10 633.40 513.14 631.79" stroke-width="2.4"/>
<path d="M624.77 639.52 L635.93 630.98 Q638.00 629.40 640.60 629.55 L695.70 632.85" stroke-width="1.2"/>
<path d="M695.70 632.85 Q698.30 633.00 696.23 634.58 L685.07 643.12 Q683.00 644.70 680.40 644.55 L625.30 641.25 Q622.70 641.10 624.77 639.52" stroke-width="2.4"/>
</g>
</svg></body></html>
